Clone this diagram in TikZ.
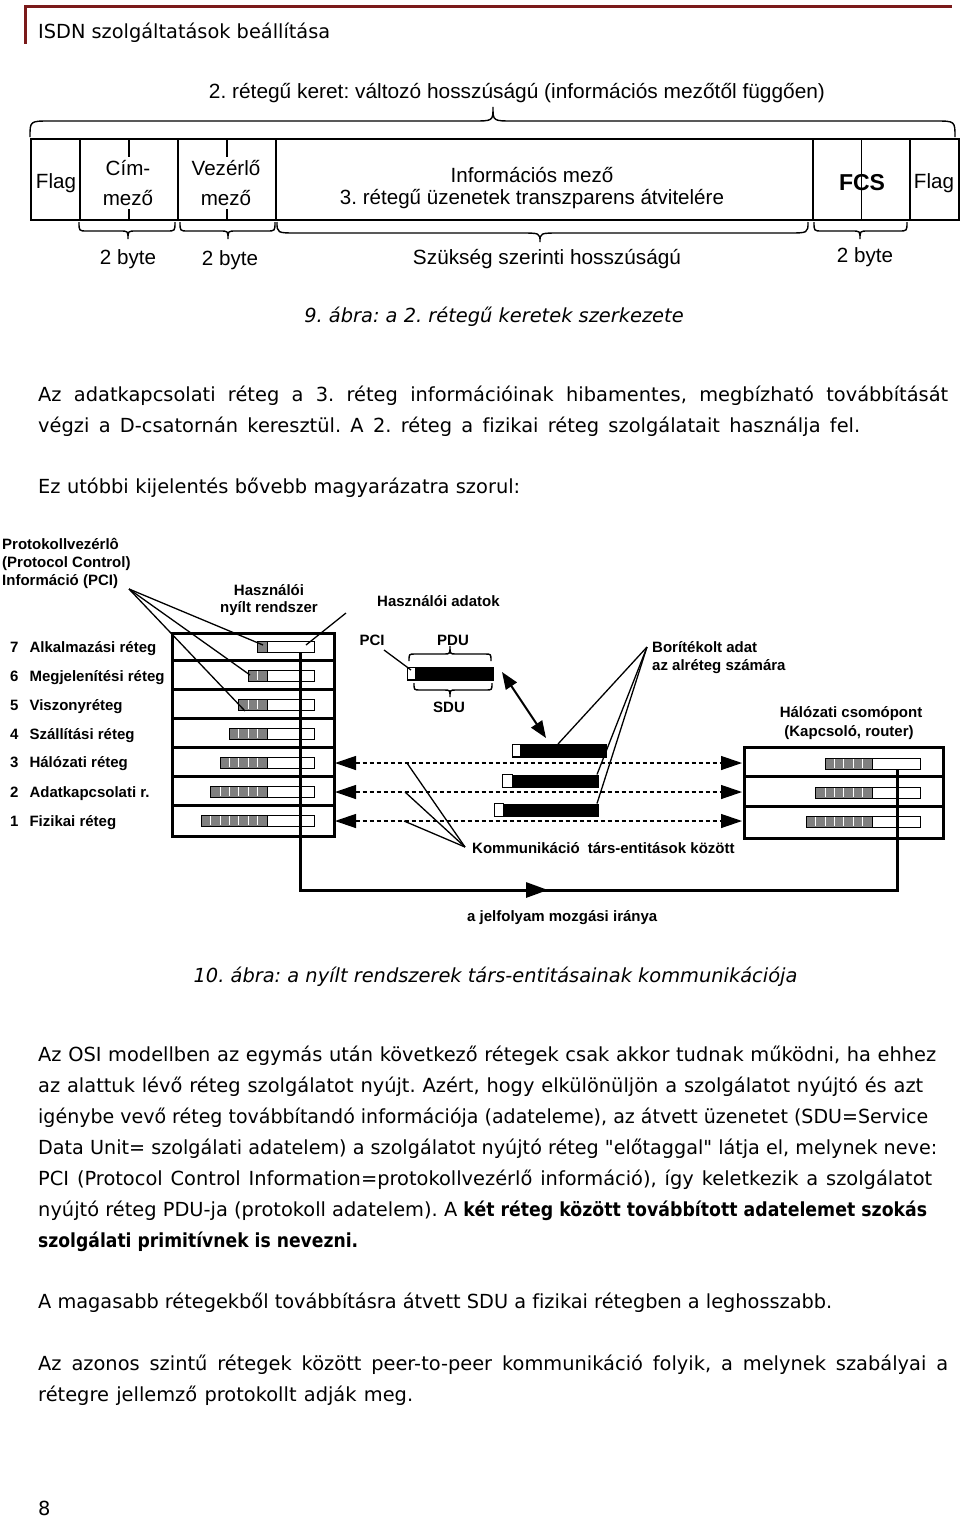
\documentclass[tikz,border=0pt]{standalone}
\usepackage{fontspec}
\usepackage{graphicx}
\setmainfont{DejaVu Sans}[Ligatures=CommonOff]
\newfontfamily\arialf{Liberation Sans}
\usetikzlibrary{arrows.meta}
\definecolor{hdrred}{HTML}{7A1A1A}
\definecolor{cellgray}{HTML}{808080}
\frenchspacing
\newsavebox\linebox
\newlength\boldw
\newcommand\dq{\XeTeXglyph\XeTeXcharglyph"22\relax}
% fit a line of text to width #1 (pt)
\newcommand\fitline[2]{\sbox\linebox{#2}\ifdim\wd\linebox>#1pt\relax\resizebox{#1pt}{\height}{\usebox\linebox}\else\makebox[#1pt][s]{#2}\fi}
% brace: x1,x2,xm,yend,yline,ytip,r
\newcommand\brc[7]{%
  \draw[brace] (#1,#4) .. controls (#1,#5) and (#1,#5) .. (#1+#7,#5) -- (#3-#7,#5)
    .. controls (#3,#5) and (#3,#5) .. (#3,#6)
    .. controls (#3,#5) and (#3,#5) .. (#3+#7,#5) -- (#2-#7,#5)
    .. controls (#2,#5) and (#2,#5) .. (#2,#4);}
% osi bar: name, xwhite, ycenter, ncells, wwhite
\newcommand\osibar[5]{%
  \fill[cellgray] (#2-#4*9.4,#3-5.5) rectangle (#2,#3+5.5);
  \foreach \k in {1,...,#4}{\draw[white, line width=0.8pt] (#2-\k*9.4,#3-4.5) -- (#2-\k*9.4,#3+4.5);}
  \draw[line width=1pt] (#2-#4*9.4,#3-5.5) rectangle (#2,#3+5.5);
  \node[draw, line width=1pt, fill=white, minimum width=#5pt, minimum height=11pt, inner sep=0pt, anchor=west] (#1) at (#2,#3) {};}
% pdu bar: name, xstart, ytop, wwhite, wblack
\newcommand\pdubar[5]{%
  \node[draw, line width=1pt, fill=black, inner sep=0pt, minimum width={#4+#5}, minimum height=12.5pt, anchor=north west] (#1) at (#2,#3) {};
  \draw[line width=1pt, fill=white] (#2,#3) rectangle (#2+#4,#3+12.5);}
\newcommand\bl[4]{\node[body] (#1) at (38,#2) {\fitline{#3}{#4}};}
\newcommand\mixline[2]{\sbox\linebox{#1\ }\setlength\boldw{\dimexpr 889pt-\wd\linebox\relax}\usebox\linebox\resizebox{\boldw}{\height}{\textbf{#2}}}
\begin{document}
\begin{tikzpicture}[x=1pt,y=-1pt,
  body/.style={anchor=base west, inner sep=0pt, font=\fontsize{19.4}{23}\selectfont},
  capt/.style={anchor=base, inner sep=0pt, font=\fontsize{19.4}{23}\selectfont\itshape},
  fr/.style={anchor=base, inner sep=0pt, font=\arialf\fontsize{20.6}{24}\selectfont},
  lab/.style={inner sep=0pt, font=\arialf\bfseries\fontsize{15}{18}\selectfont},
  fbox/.style={draw, line width=1.6pt, inner sep=0pt, anchor=north west, minimum height=81pt},
  fline/.style={line width=1.6pt},
  brace/.style={line width=1.4pt},
  thinl/.style={line width=1.3pt},
  heavy/.style={line width=3pt},
  dasharr/.style={line width=1.3pt, dash pattern=on 4pt off 3pt, {Triangle[length=21pt,width=14pt]}-{Triangle[length=21pt,width=14pt]}},
  sig/.style={line width=3pt},
]
\useasboundingbox (0,0) rectangle (960,1518);
\fill[white] (0,0) rectangle (960,1518);

% ---------- header ----------
\draw[hdrred, line width=3pt] (24,6.5) -- (952,6.5);
\draw[hdrred, line width=3pt] (25,5) -- (25,44);
\node[body] (hdr) at (38,38) {\fitline{292}{ISDN szolgáltatások beállítása}};

% ---------- frame diagram ----------
\node[fr] (ftitle) at (517,98) {\resizebox{616pt}{\height}{2. rétegű keret: változó hosszúságú (információs mezőtől függően)}};
\brc{30}{955}{493}{137}{121}{107}{20}
\node[fbox, minimum width=49pt] (fFlag1) at (30,138) {};
\node[fbox, minimum width=98pt] (fCim) at (79,138) {};
\node[fbox, minimum width=98pt] (fVez) at (177,138) {};
\node[fbox, minimum width=537pt] (fInfo) at (275,138) {};
\node[fbox, minimum width=97pt] (fFCS) at (812,138) {};
\node[fbox, minimum width=49pt] (fFlag2) at (909,138) {};
\draw[fline] (fCim.north) -- ++(0,19);
\draw[fline] (fCim.south) -- ++(0,-12);
\draw[fline] (fVez.north) -- ++(0,19);
\draw[fline] (fVez.south) -- ++(0,-12);
\draw[fline] (fFCS.north) -- (fFCS.south);
\node[fr] (tFlag1) at (56,188) {Flag};
\node[fr] (tCim1) at (128,175) {Cím-};
\node[fr] (tCim2) at (128,205) {mező};
\node[fr] (tVez1) at (226,175) {Vezérlő};
\node[fr] (tVez2) at (226,205) {mező};
\node[fr] (tInfo1) at (532,182) {Információs mező};
\node[fr] (tInfo2) at (532,204) {\resizebox{384pt}{\height}{3. rétegű üzenetek transzparens átvitelére}};
\node[fr, font=\arialf\bfseries\fontsize{23}{26}\selectfont] (tFCS) at (862,190) {FCS};
\node[fr] (tFlag2) at (934,188) {Flag};
\brc{79}{175}{128}{222}{231}{239}{8}
\brc{180}{275}{228}{222}{231}{239}{8}
\brc{277}{808}{540}{222}{233}{242}{20}
\brc{814}{907}{860}{222}{231}{239}{8}
\node[fr] (b1) at (128,264) {2 byte};
\node[fr] (b2) at (230,265) {2 byte};
\node[fr] (b3) at (547,264) {\resizebox{268pt}{\height}{Szükség szerinti hosszúságú}};
\node[fr] (b4) at (865,262) {2 byte};
\node[capt] (cap9) at (494,322) {9. ábra: a 2. rétegű keretek szerkezete};

% ---------- text ----------
\bl{p1a}{401}{910}{Az adatkapcsolati réteg a 3. réteg információinak hibamentes, megbízható továbbítását}
\bl{p1b}{432}{822}{végzi a D-csatornán keresztül. A 2. réteg a fizikai réteg szolgálatait használja fel.}
\bl{p2}{493}{482}{Ez utóbbi kijelentés bővebb magyarázatra szorul:}

% ---------- OSI diagram ----------
\node[lab, anchor=base west] (pcl1) at (2,549) {Protokollvezérlô};
\node[lab, anchor=base west] (pcl2) at (2,567) {(Protocol Control)};
\node[lab, anchor=base west] (pcl3) at (2,585) {Információ (PCI)};
\node[lab, anchor=base] (hny1) at (269,595) {Használói};
\node[lab, anchor=base] (hny2) at (269,612) {nyílt rendszer};
\node[lab, anchor=base west] (had) at (377,606) {Használói adatok};

\node[draw, line width=3pt, minimum width=162pt, minimum height=203pt, inner sep=0pt, anchor=north west] (stackL) at (171,632) {};
\foreach \yy in {660,689,718,747,776,805} \draw[heavy] (171,\yy) -- (333,\yy);
\node[draw, line width=3pt, minimum width=199pt, minimum height=91pt, inner sep=0pt, anchor=north west] (stackR) at (743,746) {};
\foreach \yy in {776.5,806.5} \draw[heavy] (743,\yy) -- (942,\yy);

\osibar{w7}{267}{647}{1}{47}
\osibar{w6}{267}{675.5}{2}{47}
\osibar{w5}{267}{704.5}{3}{47}
\osibar{w4}{267}{733.5}{4}{47}
\osibar{w3}{267}{762.5}{5}{47}
\osibar{w2}{267}{791.5}{6}{47}
\osibar{w1}{267}{820.5}{7}{47}
\osibar{n3}{872}{763.5}{5}{48}
\osibar{n2}{872}{792.5}{6}{48}
\osibar{n1}{872}{821.5}{7}{48}

\foreach \n/\t/\y in {7/Alkalmazási réteg/647,6/Megjelenítési réteg/676,5/Viszonyréteg/705,4/Szállítási réteg/734,3/Hálózati réteg/762,2/Adatkapcsolati r./792,1/Fizikai réteg/821}
  \node[lab, anchor=base west] (L\n) at (10,\y+5.5) {\n\hspace{11pt}\t};

% signal line
\coordinate (w7x) at (300,653);
\coordinate (sigL) at (300,890);
\coordinate (sigA) at (548,890);
\coordinate (sigR) at (897,890);
\coordinate (n3x) at (897,769);
\draw[sig] (w7x) -- (sigL) -- (sigR) -- (n3x);
\draw[sig, -{Triangle[length=22pt,width=15pt]}] (sigL) -- (sigA);
\node[lab, anchor=base west] (jel) at (467,921.5) {a jelfolyam mozgási iránya};

% dashed peer arrows
\foreach \i/\y in {3/763,2/792,1/821}{
  \coordinate (pl\i) at (335,\y);
  \coordinate (pr\i) at (742,\y);
  \draw[dasharr] (pl\i) -- (pr\i);}

% PDU
\pdubar{pdu}{407}{667}{8}{78}
\node[lab, anchor=base] (tPCI) at (372,645.5) {PCI};
\node[lab, anchor=base] (tPDU) at (453,645.5) {PDU};
\node[lab, anchor=base] (tSDU) at (449,712) {SDU};
\brc{409}{491}{450}{661}{654}{646}{6}
\brc{414}{492}{450}{683}{690}{697}{6}
\coordinate (pciS) at (384,650);
\coordinate (pciE) at (411,670);
\draw[thinl] (pciS) -- (pciE);

\coordinate (da1) at (502,672);
\coordinate (da2) at (546,738);
\draw[line width=2pt, {Triangle[length=17pt,width=13pt]}-{Triangle[length=17pt,width=13pt]}] (da1) -- (da2);

\pdubar{barA}{512}{744}{8}{86}
\pdubar{barB}{502}{774.5}{10}{86}
\pdubar{barC}{494}{803.5}{9}{95}

\node[lab, anchor=base west] (bor1) at (652,652) {Borítékolt adat};
\node[lab, anchor=base west] (bor2) at (652,670.5) {az alréteg számára};
\coordinate (borP) at (647,647);
\coordinate (bA) at (558,744);
\coordinate (bB) at (597,774.5);
\coordinate (bC) at (597,803.5);
\draw[thinl] (borP) -- (bA);
\draw[thinl] (borP) -- (bB);
\draw[thinl] (borP) -- (bC);

\node[lab, anchor=base] (hc1) at (851,717.5) {Hálózati csomópont};
\node[lab, anchor=base] (hc2) at (849,736.5) {(Kapcsoló, router)};

\node[lab, anchor=base west] (komm) at (472,853.5) {Kommunikáció\hspace{4pt} társ-entitások között};
\coordinate (kP) at (465,847);
\coordinate (k3) at (407,763);
\coordinate (k2) at (405,792);
\coordinate (k1) at (404,821);
\draw[thinl] (kP) -- (k3);
\draw[thinl] (kP) -- (k2);
\draw[thinl] (kP) -- (k1);

% PCI pointers
\coordinate (pciL) at (129,589);
\coordinate (pc7) at (263,645);
\coordinate (pc6) at (250,675);
\coordinate (pc5) at (245,711);
\draw[thinl] (pciL) -- (pc7);
\draw[thinl] (pciL) -- (pc6);
\draw[thinl] (pciL) -- (pc5);
\coordinate (hadP) at (346,613);
\coordinate (hadE) at (306,645);
\draw[thinl] (hadP) -- (hadE);

\node[capt] (cap10) at (495.5,982) {10. ábra: a nyílt rendszerek társ-entitásainak kommunikációja};

% ---------- text below ----------
\bl{p3a}{1061}{898}{Az OSI modellben az egymás után következő rétegek csak akkor tudnak működni, ha ehhez}
\bl{p3b}{1092}{885}{az alattuk lévő réteg szolgálatot nyújt. Azért, hogy elkülönüljön a szolgálatot nyújtó és azt}
\bl{p3c}{1123}{890}{igénybe vevő réteg továbbítandó információja (adateleme), az átvett üzenetet (SDU=Service}
\bl{p3d}{1154}{899}{Data Unit= szolgálati adatelem) a szolgálatot nyújtó réteg \dq előtaggal\dq{} látja el, melynek neve:}
\bl{p3e}{1185}{894}{PCI (Protocol Control Information=protokollvezérlő információ), így keletkezik a szolgálatot}
\node[body] (p3f) at (38,1216) {\mixline{nyújtó réteg PDU-ja (protokoll adatelem). A}{két réteg között továbbított adatelemet szokás}};
\bl{p3g}{1247}{320}{\textbf{szolgálati primitívnek is nevezni.}}
\bl{p4}{1308}{794}{A magasabb rétegekből továbbításra átvett SDU a fizikai rétegben a leghosszabb.}
\bl{p5a}{1370}{910}{Az azonos szintű rétegek között peer-to-peer kommunikáció folyik, a melynek szabályai a}
\bl{p5b}{1401}{375}{rétegre jellemző protokollt adják meg.}
\node[body] (pgno) at (38,1515) {8};
\end{tikzpicture}
\end{document}
